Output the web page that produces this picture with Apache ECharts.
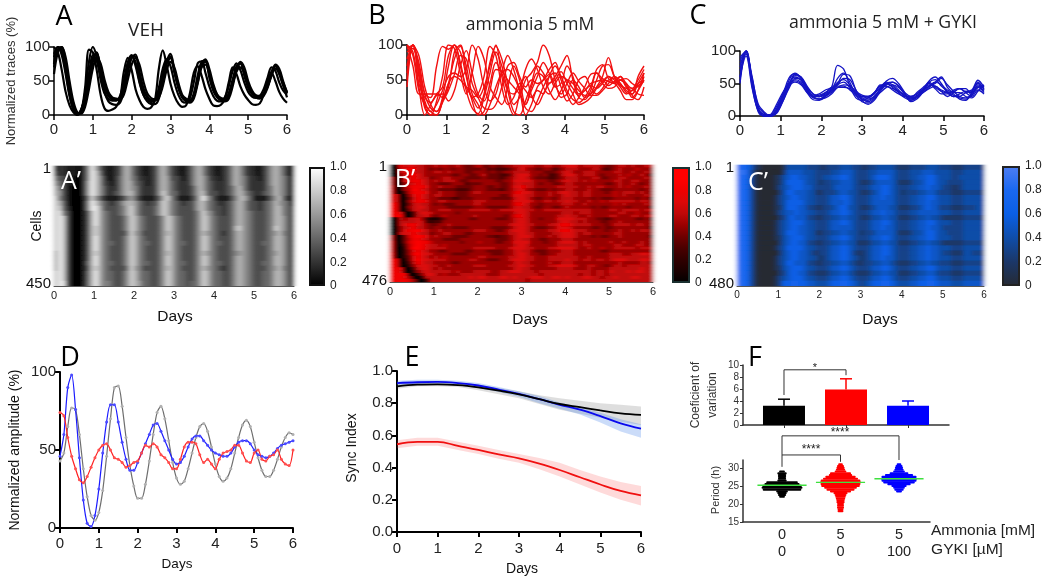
<!DOCTYPE html>
<html><head><meta charset="utf-8">
<style>html,body{margin:0;padding:0;background:#fff}
#h,#c{position:absolute;left:0;top:0;width:1050px;height:580px}
#h{z-index:1;filter:url(#soft)}
#c{z-index:2;filter:blur(0.4px)}</style>
<script src="https://cdn.jsdelivr.net/npm/echarts@6/dist/echarts.min.js"></script>
</head><body>
<svg width="0" height="0" style="position:absolute"><filter id="soft" x="0" y="0" width="100%" height="100%"><feGaussianBlur stdDeviation="1.9 0.7"/></filter></svg>
<div id="h"></div><div id="c"></div>
<script>
// ---------- panel A traces, one value every 0.1 day ----------
const vehA1=[85,100,93,65,30,8,1,8,28,60,88,80,52,32,24,21,21,28,50,78,88,72,48,30,22,19,22,40,68,82,72,48,30,20,18,25,48,76,79,62,42,28,21,20,26,42,65,76,66,48,34,27,25,28,38,55,70,65,48,36,30];
const vehA2=[70,96,100,78,42,14,2,4,18,46,78,91,70,44,30,24,22,24,36,62,84,89,64,40,27,22,21,28,50,75,84,62,40,26,22,21,32,58,78,80,55,36,26,22,22,32,52,72,76,58,40,31,27,27,32,46,64,72,60,44,33];
const vehA3=[60,92,100,85,50,20,4,2,12,38,68,84,76,52,34,26,24,23,30,52,74,84,74,50,32,25,23,26,42,66,78,70,48,30,24,22,28,48,70,74,60,42,30,25,24,30,46,64,70,62,44,34,29,28,31,42,58,68,62,48,34];
const vehA4=[90,100,88,60,28,8,1,8,26,56,84,92,64,40,28,23,22,26,44,72,86,86,58,36,26,21,22,32,58,80,86,66,42,27,21,20,27,52,74,82,68,46,30,23,22,28,46,68,78,70,50,36,28,26,30,42,60,74,68,50,32];
const vehA5=[100,92,66,34,14,4,0,6,40,96,92,66,30,10,6,8,12,24,64,84,66,38,22,12,9,11,22,68,95,74,46,28,17,12,14,32,62,72,58,38,24,14,13,15,24,48,70,60,42,30,22,16,15,17,30,52,62,50,34,24,18];
const vehA6=[75,100,96,70,35,10,1,6,32,78,100,86,58,34,20,16,15,18,36,70,86,78,50,30,20,16,16,24,50,78,90,66,42,26,20,18,24,46,72,78,62,42,28,22,20,24,42,66,76,62,44,32,26,24,28,40,58,72,62,44,26];
// ---------- panels B, C traces, one value every 0.15 day ----------
const amm1=[40,100,70,30,25,70,98,94,100,70,40,25,10,30,75,98,80,45,15,25,50,60,75,100,85,50,25,30,50,40,25,30,50,70,72,55,45,35,30,45,60];
const amm2=[100,90,40,0,15,30,40,85,100,75,35,10,2,25,60,90,70,35,5,0,20,45,70,60,45,55,70,85,50,25,22,35,60,52,48,45,50,42,25,35,50];
const amm3=[80,100,55,10,0,20,55,100,95,60,30,60,98,80,40,25,15,40,70,50,15,35,55,75,60,40,45,70,55,30,35,45,48,50,42,48,55,45,38,50,65];
const amm4=[90,95,60,20,5,15,35,55,60,55,65,100,80,40,20,30,60,65,55,35,0,15,40,50,65,75,50,30,15,25,40,58,60,45,38,40,50,52,45,40,55];
const amm5=[60,100,75,30,10,5,25,70,100,90,55,20,0,5,35,65,62,50,40,30,15,40,60,55,35,22,35,50,45,35,28,30,40,55,82,55,42,38,35,45,50];
const amm6=[100,85,35,15,5,0,20,45,80,98,70,30,15,0,15,40,62,85,65,35,10,5,20,40,55,60,40,20,30,50,55,40,30,38,50,52,45,32,30,55,70];
const amm7=[50,100,85,40,15,5,20,45,55,50,40,35,25,40,70,100,55,20,0,30,65,80,65,40,30,45,55,50,38,28,35,42,38,45,55,50,40,30,35,42,48];
const amm8=[100,70,30,30,30,30,25,40,90,100,60,25,30,55,98,85,40,15,25,45,35,25,35,30,55,70,55,35,22,18,25,40,65,72,52,46,35,22,22,35,60];
const amm9=[70,100,65,15,0,0,18,35,58,85,80,45,25,10,8,15,40,70,75,55,40,50,45,50,58,42,30,45,60,48,38,28,28,35,45,55,50,45,28,22,40];
const amm10=[95,100,45,25,18,28,30,20,35,70,92,60,30,20,45,75,60,35,30,40,55,28,15,30,45,50,62,45,30,15,18,25,38,48,55,45,55,40,38,30,28];
const gyk1=[60,100,55,12,2,2,15,32,58,65,58,42,32,34,40,44,78,72,46,28,24,28,36,46,50,46,38,32,26,30,40,52,44,38,36,38,42,38,40,55,44];
const gyk2=[80,98,50,10,0,0,12,34,50,60,55,40,30,30,34,40,50,64,62,40,24,18,24,38,48,52,46,34,24,28,38,46,50,58,48,38,30,28,34,46,38];
const gyk3=[55,100,60,15,4,0,8,28,48,62,60,46,34,30,32,38,48,58,56,40,28,26,30,42,54,58,50,36,22,26,36,44,52,60,44,34,26,24,36,50,42];
const gyk4=[70,95,45,6,0,0,5,22,42,56,52,36,25,24,30,40,48,52,44,34,30,30,36,46,46,40,34,30,30,34,42,48,46,40,36,30,34,38,36,44,36];
const gyk5=[90,100,50,10,2,0,10,30,46,52,48,36,28,26,30,36,44,44,42,36,30,28,34,44,52,48,40,30,28,36,44,50,42,34,34,40,42,36,30,40,34];
const gyk6=[50,98,58,18,6,0,4,22,44,58,56,42,30,26,28,34,44,48,46,38,32,30,34,48,46,42,38,32,26,32,38,52,56,46,38,32,28,26,32,44,46];
const gyk7=[75,100,52,12,0,0,8,26,46,64,60,44,34,30,36,42,52,56,48,36,26,22,28,36,44,48,44,34,28,30,36,42,46,38,30,36,42,42,32,48,42];
const gyk8=[60,92,42,8,0,2,18,36,50,54,50,38,30,32,36,44,46,46,40,32,26,24,30,40,50,52,46,36,30,34,40,46,52,48,40,36,36,30,28,38,48];
const gyk9=[85,100,48,8,0,0,6,26,54,66,58,40,28,26,32,40,58,66,52,32,22,20,26,42,50,44,36,28,24,30,40,54,60,50,36,30,30,36,38,52,40];
// ---------- heatmaps: each row is 60 columns (0.1 day), digit = tenths of normalized signal ----------
const heatA=[
"2221110259 7421123675 3211236753 2112467532 1123576422 1124676421",
"3221110259 8521123675 3211236753 2112467532 1123576422 1124676421",
"5331100259 8631124675 4221236763 3212467642 2123576532 2124676532",
"6431100269 8632124676 4321236764 3222467643 2223576532 2224676532",
"7531000269 8642224676 5322236764 3222357643 2223467532 2224576532",
"7631000269 8642234677 5322236864 4222357743 3223467643 2234576532",
"8531000148 6421112356 4211124785 3111247964 2111357753 1112467421",
"8741000159 8643234677 6432336875 4323357754 3223467643 3234576542",
"8842000159 9743334578 6433346875 4333357754 3323467643 3234577543",
"8953000137 9754334578 6433346875 4333346865 3323467654 3334577543",
"8983000137 9754333468 7543334687 5433346875 4333467654 3334577643",
"8983000137 9754333468 7543334687 5433346875 4333467654 3334577643",
"8983000137 8754333468 7543334687 5433346875 4333478654 3334587643",
"8983000137 8754333358 6533334677 5433346765 4323467654 3334567543",
"8983000137 9754333468 7543334687 5433346875 4333467654 3334577643",
"8983000137 9754433468 7544334687 5443346875 4433467654 3344577643",
"8983000137 9754333468 7543334687 5433346875 4333467654 3334577643",
"7983000137 8754333468 7543334677 5433346765 4333456654 3334567643",
"7983000137 9754333468 7543334687 5433346875 4333467654 3334577643",
"7983000147 9754433468 7544334687 5443346875 4433467654 3344577643",
"7983000137 8754333358 6533334677 5433346765 4323467654 3334567543",
"8983000147 9754433468 7544334687 5443346875 4433467654 3344577643",
"8983000147 9754433468 7544334687 5443346875 4433467654 3344577643",
"8993000147 9755433468 7644334687 5443446875 4433467654 3344577643"];
const heatB=[
"0086776655 6565565445 6445445566 7665566556 7775666654 4566565566",
"0067886654 5455455444 4534333456 7554455345 6665556643 4565556555",
"0067776655 6656555445 5545445566 6655544456 7655666555 5665565565",
"0056887655 5555445544 5644433467 7755453346 7765666545 5565655654",
"6007787664 5566555444 4544434567 7654443345 6665556644 5566555565",
"6007788765 6566654455 5555445577 7765554456 7665656555 5665566555",
"6005678765 5444555344 4555544567 6665455445 6655555554 4565565455",
"7005788875 5655544445 5544544577 8665555566 6665565665 5565655565",
"7005698765 5444433345 5544434567 7554445455 6655565544 4555555455",
"7003688875 5655544456 6555555578 7765556567 7665665554 5656665655",
"7700578765 6655544455 5555544577 7665556556 7665665555 5656555565",
"7700468765 5444334445 5554444467 7654455456 6655554544 4555554554",
"7700578875 5665555556 6655555577 7765566566 7665565565 6666665665",
"8800467665 4544455556 6555555578 7655455556 6655655555 5656555565",
"8800567765 5554444445 5544444567 6654455445 6555554544 5555455554",
"8800467665 5666555566 6665566677 7665566666 6666665555 6656666566",
"8870036776 5555545555 5555555567 7655555556 6656665555 5566556555",
"8890036675 4565555556 5555554578 7655555566 7665565555 6655566566",
"0065667521 1245555544 5555444567 7655455577 7766655443 4555554454",
"0066667632 3355555555 5555555567 7655555567 7665655544 5565555555",
"0067887654 4556555555 5555555677 7665556678 8766665554 5666656655",
"0056786654 5545444455 5554444567 7654445577 7655554454 4555555554",
"0057889765 5655555556 6655445677 7655556678 8766655554 5565565665",
"0067787664 5566555445 5555555667 7665555667 7765665555 5665555555",
"6004789875 6555444455 5544344567 7765556567 7765554544 5565555554",
"6004688765 5544445555 5555444567 6655445556 6655555555 5555555555",
"7004789886 5555554555 6555445577 7755545567 7765655555 6556555655",
"7003689876 6565555555 5555555567 7655555566 6665665555 5665556655",
"7002699876 6665555556 6666555677 7665556677 7765565565 5666665666",
"7002578765 5445555445 5544445567 6654445556 6655555544 5555555555",
"8002589776 5555444455 5554445567 7655445566 6655555555 6665566776",
"8002478765 6565555555 6655555667 7665556666 6665565555 6666666666",
"8800479776 6665555566 5544455677 7665556666 7665665665 6777666776",
"8800368766 5555445555 5555555567 6655556556 6655555555 5565555665",
"8800257776 6556555556 6655555667 7665556677 7765566554 5665666666",
"8870036776 5655555555 5555555567 6655555566 6655565555 6666666766",
"8870025676 6666565556 6665566777 6665666666 6666665665 7666767766",
"8888002577 6565556666 6655566666 6666566666 6665665665 6666666666",
"8887500266 6666666676 7766677676 6677766776 7666776656 6766677666",
"8888750026 6666666666 6666666666 6566666666 6666666666 6666666666"];
const heatC=[
"8865210000 0144444333 2233344433 2233444432 2233334443 3322233333",
"9974100000 0255554443 3334455543 3344555543 3344455544 4433344444",
"9874100001 2456655443 3445566543 3345666543 3344556654 4433444444",
"9874100001 2466665443 2334455543 2234555542 2234456654 4333344444",
"9874100001 3456665543 3334555543 3345566543 3344556554 3322344444",
"9874100000 2466555442 2333455443 2234566543 2333445543 3322233333",
"9874100001 3456655443 3345566543 3345565543 3344556654 4433344444",
"9874100001 3466665443 3345556543 3345555543 3344556554 4433344444",
"9874100001 2466655332 2334566443 2234555442 2233456553 3322233344",
"9874100001 3455655443 3345566543 3345565543 3344555554 4433344444",
"9874100000 2356555332 2334455443 2234455442 2233445443 2222233333",
"9874100001 3456665443 3345566543 3345566543 3344556654 4433344444",
"9874100001 3456655443 3345555543 3345565543 3344556554 3333344444",
"9874100001 3466655442 2334455443 2334555542 2234456654 4333344444",
"9874100001 2456665443 3345566543 3345566543 3344556654 4433344444",
"9874100000 2456655332 2334455442 2234455442 2233445443 2222233333",
"9874100001 3466665443 3345566543 3345566543 3344556554 4433344444",
"9874100000 2456655432 3345566532 2345566543 3344556554 3322244333",
"9874100001 3456655443 2345566543 2345565543 3344556554 4433344444",
"9874100001 3466555332 2334455432 2334455432 2233445443 3322233333",
"9874100001 2456665443 3345566543 3345566543 3344556654 4433344444",
"9874100000 2356655332 2234455432 2234455442 2233445543 3322233333",
"9874100001 3456665443 3345566543 3345566543 3344556654 4433344444",
"9874100001 3667766554 4456677654 3456677654 4455667765 5544455555"];
const rampA=['#000000','#ffffff'];
const rampB=['#000000','#1a0000','#300000','#4a0000','#6e0000','#9a0000','#c00808','#dc0808','#f00000','#ff0000','#ff0000'];
const rampC=['#262a33','#1b3768','#0f4da8','#0a5fe6','#1a68f0','#4f7ef2'];
// ---------- panel D, one value every 0.1 day ----------
const ampVeh=[43,48,65,77,76,60,38,20,8,5,10,24,46,70,90,91,78,58,40,27,19,19,28,43,60,74,78,70,56,42,32,28,30,38,48,58,65,67,62,52,41,33,30,32,38,48,58,66,69,65,55,45,37,33,33,37,44,52,58,61,60];
const ampGyki=[46,60,90,98,76,45,18,3,1,8,25,48,68,79,79,68,55,44,37,37,42,48,54,60,66,67,62,56,50,44,41,42,46,52,57,59,59,56,53,50,48,47,46,46,48,52,55,56,56,54,50,47,46,45,46,48,51,53,54,55,56];
const ampAmm=[74,72,58,46,38,31,29,33,39,45,50,53,54,50,45,44,42,39,40,42,43,48,53,52,54,52,47,45,42,38,38,44,52,55,55,54,47,42,44,41,38,44,48,49,50,53,53,48,43,42,48,50,44,43,46,47,50,44,41,40,50];
// ---------- panel E, one value every 0.5 day ----------
const syncVeh=[.905,.915,.917,.912,.898,.878,.855,.825,.795,.775,.755,.737,.727];
const syncVehHi=[.92,.925,.928,.925,.915,.895,.875,.85,.83,.815,.80,.79,.78];
const syncVehLo=[.89,.905,.905,.9,.88,.855,.83,.795,.76,.735,.71,.685,.665];
const syncGyki=[.925,.93,.932,.925,.91,.885,.858,.825,.79,.76,.72,.675,.642];
const syncGykiHi=[.94,.945,.945,.94,.925,.90,.875,.845,.805,.775,.74,.70,.67];
const syncGykiLo=[.91,.915,.92,.91,.895,.87,.84,.80,.765,.73,.68,.625,.585];
const syncAmm=[.545,.56,.56,.535,.51,.482,.458,.425,.385,.34,.295,.255,.228];
const syncAmmHi=[.57,.585,.585,.56,.535,.51,.485,.46,.43,.385,.345,.31,.285];
const syncAmmLo=[.52,.535,.535,.51,.485,.455,.43,.39,.345,.295,.245,.2,.165];
// ---------- panel F ----------
const cvMean=[3.2,5.9,3.2];
const cvTop=[4.3,7.7,4.0];
const groupColors=['#000000','#ff0000','#0000ff'];
const ammoniaLabels=['0','5','5'];
const gykiLabels=['0','0','100'];
const periodBins=[
 [[22,.05],[22.5,.07],[23,.08],[23.5,.10],[24,.33],[24.5,.35],[25,.34],[25.5,.30],[26,.27],[26.5,.08],[27,.07],[27.5,.07],[28,.07],[28.5,.08],[29,.05]],
 [[18,.05],[18.5,.05],[19,.06],[19.5,.06],[20,.06],[20.5,.07],[21,.07],[21.5,.08],[22,.09],[22.5,.1],[23,.12],[23.5,.18],[24,.24],[24.5,.28],[25,.33],[25.5,.34],[26,.35],[26.5,.34],[27,.3],[27.5,.26],[28,.2],[28.5,.18],[29,.1],[29.5,.08],[30,.07],[30.5,.06],[31,.04]],
 [[23.5,.05],[24,.08],[24.5,.1],[25,.13],[25.5,.2],[26,.27],[26.5,.3],[27,.31],[27.5,.3],[28,.24],[28.5,.16],[29,.1],[29.5,.08],[30,.07],[30.5,.06],[31,.04]]];
const periodMean=[25.2,26,27];
const bracketCv=[[0,5],[0,9.2],[1,9.2],[1,8.3]];
const bracketP1=[[0,30.3],[0,33.6],[1,33.6],[1,31.7]];
const bracketP2=[[0,33.6],[0,38.9],[2,38.9],[2,32.2]];

const SANS='"Liberation Sans",Arial,sans-serif', CAL='"Open Sans",sans-serif';
const grids=[],xAxes=[],yAxes=[],series=[];
// heatmap layer: drawn by its own instance so it can be softened like the source raster
const hGrids=[],hX=[],hY=[],hSeries=[],hMaps=[];
function addGrid(l,t,w,h){grids.push({left:l,top:t,width:w,height:h,containLabel:false});return grids.length-1;}
function ax(list,o){list.push(o);return list.length-1;}
function numAxis(g,min,max,interval,fs,extra){
  return Object.assign({type:'value',gridIndex:g,min,max,interval,splitLine:{show:false},
    axisLine:{show:true,onZero:false,lineStyle:{color:'#000',width:1.5}},
    axisTick:{show:true,length:5,lineStyle:{color:'#000',width:1.5}},
    axisLabel:{fontSize:fs,color:'#222',fontFamily:SANS,margin:4}},extra||{});
}
function lineTraces(l,t,w,h,ymax,step,traces,color,lw,fs){
  const g=addGrid(l,t,w,h);
  const xi=ax(xAxes,numAxis(g,0,6,1,fs,{axisLabel:{fontSize:fs,color:'#222',fontFamily:SANS,margin:7}}));
  const yi=ax(yAxes,numAxis(g,0,ymax,50,fs));
  traces.forEach(tr=>series.push({type:'line',xAxisIndex:xi,yAxisIndex:yi,showSymbol:false,smooth:.35,
    lineStyle:{color,width:lw},silent:true,data:tr.map((v,i)=>[i*step,v])}));
}
lineTraces(54,47,233,68,100,.1,[vehA1,vehA2,vehA3,vehA4,vehA5,vehA6],'#000',2.2,15);
lineTraces(407,45,237,70,100,.15,[amm1,amm2,amm3,amm4,amm5,amm6,amm7,amm8,amm9,amm10],'#f21010',1.4,15);
lineTraces(740,51,244,65,100,.15,[gyk1,gyk2,gyk3,gyk4,gyk5,gyk6,gyk7,gyk8,gyk9],'#1414c4',1.3,15);

function heat(l,t,w,h,rows,ramp,last,fs,bg){
  const clean=rows.map(r=>r.replace(/ /g,''));
  const cats=Array.from(clean[0],(c,i)=>String(i));
  const rowNames=clean.map((r,i)=>i===0?'1':(i===clean.length-1?last:''));
  // axes with tick labels live on the sharp layer
  const g=addGrid(l,t,w,h);
  ax(xAxes,numAxis(g,0,6,1,fs,{position:'bottom',axisLine:{show:true,onZero:false,lineStyle:{color:'#555',width:1}},axisTick:{length:3,lineStyle:{color:'#333'}},axisLabel:{fontSize:fs,color:'#222',fontFamily:SANS,margin:4}}));
  ax(yAxes,{type:'category',gridIndex:g,inverse:true,data:rowNames,axisLine:{show:false},axisTick:{show:false},
    axisLabel:{interval:0,fontSize:15,color:'#111',fontFamily:SANS,margin:3}});
  // cells live on the heat layer
  const hg=hGrids.length;
  hGrids.push({left:l,top:t,width:w,height:h,show:true,backgroundColor:bg,borderWidth:0});
  hX.push({type:'category',gridIndex:hg,data:cats,show:false});
  hY.push({type:'category',gridIndex:hg,inverse:true,data:rowNames,show:false});
  const data=[];clean.forEach((r,y)=>Array.from(r).forEach((c,x)=>data.push([x,y,+c/10])));
  hMaps.push({show:false,seriesIndex:hg,min:0,max:1,inRange:{color:ramp}});
  hSeries.push({type:'heatmap',xAxisIndex:hg,yAxisIndex:hg,data,silent:true,itemStyle:{borderWidth:0}});
}
heat(54,166,240,120,heatA,rampA,'450',11,'#666666');
heat(390,165,263,117,heatB,rampB,'476',11,'#a01010');
heat(737,165,247,121,heatC,rampC,'480',10,'#0e52c0');

function cbar(l,t,w,h,ramp,border){
  const g=addGrid(l,t,w,h);
  const xi=ax(xAxes,{type:'category',gridIndex:g,data:[''],show:false});
  const yi=ax(yAxes,numAxis(g,0,1,.2,12,{position:'right',axisLine:{show:false},axisTick:{length:4,inside:false,lineStyle:{color:'#000',width:1}},
    axisLabel:{fontSize:12,color:'#222',fontFamily:SANS,margin:5,formatter:v=>v===0?'0':v.toFixed(1)}}));
  const stops=ramp.map((c,i)=>({offset:1-i/(ramp.length-1),color:c}));
  series.push({type:'bar',xAxisIndex:xi,yAxisIndex:yi,barWidth:'100%',silent:true,data:[1],
    itemStyle:{borderColor:border,borderWidth:2,color:{type:'linear',x:0,y:0,x2:0,y2:1,colorStops:stops.reverse()}}});
}
cbar(309,167,16,119,rampA,'#111');
cbar(672,167,18,116,rampB,'#1a3030');
cbar(1002,166,18,120,rampC,'#222');

const heavy={axisLine:{show:true,onZero:false,lineStyle:{color:'#000',width:2}},axisTick:{length:5,lineStyle:{color:'#000',width:2}}};
// panel D
(function(){
  const g=addGrid(60,372,233,156);
  const xi=ax(xAxes,numAxis(g,0,6,1,15,Object.assign({},heavy,{axisLabel:{fontSize:15,color:'#222',fontFamily:SANS,margin:8}})));
  const yi=ax(yAxes,numAxis(g,0,100,50,15,heavy));
  [[ampVeh,'#6e6e6e','#b0b0b0'],[ampGyki,'#1a1aff','#4a4aff'],[ampAmm,'#ff2020','#ff5050']].forEach(d=>series.push({
    type:'line',xAxisIndex:xi,yAxisIndex:yi,symbol:'circle',symbolSize:3,smooth:.3,silent:true,
    lineStyle:{color:d[1],width:1.2},itemStyle:{color:d[2]},data:d[0].map((v,i)=>[i*.1,v])}));
})();
// panel E
(function(){
  const g=addGrid(397,371,244,161);
  const xi=ax(xAxes,numAxis(g,0,6,1,15,Object.assign({},heavy,{axisLabel:{fontSize:15,color:'#222',fontFamily:SANS,margin:9}})));
  const yi=ax(yAxes,numAxis(g,0,1,.2,15,Object.assign({},heavy,{axisLabel:{fontSize:15,color:'#222',fontFamily:SANS,margin:4,formatter:v=>v.toFixed(1)}})));
  const xy=a=>a.map((v,i)=>[i*.5,v]);
  const bands=[[syncVehHi,syncVehLo,'rgba(60,60,60,.17)'],[syncGykiHi,syncGykiLo,'rgba(70,130,235,.28)'],[syncAmmHi,syncAmmLo,'rgba(250,70,70,.2)']];
  series.push({type:'custom',xAxisIndex:xi,yAxisIndex:yi,silent:true,data:[[0,0],[1,0],[2,0]],
    renderItem(p,api){const b=bands[api.value(0)];
      const pts=b[0].map((v,i)=>api.coord([i*.5,v])).concat(b[1].map((v,i)=>api.coord([i*.5,v])).reverse());
      return {type:'polygon',shape:{points:pts},style:{fill:b[2]}};}});
  [[syncGyki,'#0a0aee'],[syncVeh,'#000000'],[syncAmm,'#f01010']].forEach(d=>series.push({type:'line',xAxisIndex:xi,yAxisIndex:yi,showSymbol:false,smooth:.4,silent:true,lineStyle:{color:d[1],width:1.8},data:xy(d[0])}));
})();
const thin={axisLine:{show:true,onZero:false,lineStyle:{color:'#333',width:1.5}},axisTick:{length:3,lineStyle:{color:'#333',width:1}}};
// panel F top
(function(){
  const g=addGrid(743,365,206,60);
  const xi=ax(xAxes,numAxis(g,-.661,2.661,1,10,Object.assign({},thin,{axisTick:{show:true,length:3,customValues:[0,1,2],lineStyle:{color:'#333'}},axisLabel:{show:false}})));
  const yi=ax(yAxes,numAxis(g,0,10,2,10,Object.assign({},thin,{axisLabel:{fontSize:10,color:'#333',fontFamily:SANS,margin:4}})));
  series.push({type:'bar',xAxisIndex:xi,yAxisIndex:yi,barWidth:42,silent:true,data:cvMean.map((v,i)=>({value:[i,v],itemStyle:{color:groupColors[i]}}))});
  series.push({type:'custom',xAxisIndex:xi,yAxisIndex:yi,silent:true,data:cvMean.map((v,i)=>[i,v,cvTop[i]]),
    renderItem(p,api){const a=api.coord([api.value(0),api.value(1)]),b=api.coord([api.value(0),api.value(2)]);
      const st={stroke:groupColors[api.value(0)],lineWidth:1.5};
      return {type:'group',children:[{type:'line',shape:{x1:a[0],y1:a[1],x2:b[0],y2:b[1]},style:st},{type:'line',shape:{x1:b[0]-6,y1:b[1],x2:b[0]+6,y2:b[1]},style:st}]};}});
  series.push({type:'line',xAxisIndex:xi,yAxisIndex:yi,clip:false,showSymbol:false,silent:true,lineStyle:{color:'#333',width:1},data:bracketCv});
})();
// panel F bottom
(function(){
  const g=addGrid(743,460,187,62);
  const xi=ax(xAxes,numAxis(g,-.667,2.53,1,14,Object.assign({},thin,{axisTick:{show:false},
    axisLabel:{customValues:[0,1,2],fontSize:14.5,lineHeight:17,color:'#222',fontFamily:SANS,margin:4,formatter:v=>{const i=Math.round(v);return ammoniaLabels[i]+'\n'+gykiLabels[i];}}})));
  const yi=ax(yAxes,numAxis(g,15,32.2,5,10,Object.assign({},thin,{axisLabel:{fontSize:10,color:'#333',fontFamily:SANS,margin:4,customValues:[15,20,25,30]},axisTick:{length:3,customValues:[15,20,25,30],lineStyle:{color:'#333'}}})));
  const swarm=[];periodBins.forEach((bins,gi)=>bins.forEach(b=>swarm.push([gi,b[0],b[1]])));
  series.push({type:'custom',xAxisIndex:xi,yAxisIndex:yi,silent:true,data:swarm,clip:false,
    renderItem(p,api){const gi=api.value(0),y=api.value(1),hw=api.value(2);
      const a=api.coord([gi-hw,y+.3]),b=api.coord([gi+hw,y-.3]);
      return {type:'rect',shape:{x:a[0],y:a[1],width:b[0]-a[0],height:b[1]-a[1],r:1},style:{fill:groupColors[gi]}};}});
  periodMean.forEach((m,i)=>series.push({type:'line',xAxisIndex:xi,yAxisIndex:yi,showSymbol:false,silent:true,lineStyle:{color:'#3fe03f',width:1.4},data:[[i-.42,m],[i+.42,m]]}));
  [bracketP1,bracketP2].forEach(b=>series.push({type:'line',xAxisIndex:xi,yAxisIndex:yi,clip:false,showSymbol:false,silent:true,lineStyle:{color:'#333',width:1},data:b}));
})();

function t(text,x,y,size,o){o=o||{};
  return {type:'text',x,y,z:100,rotation:o.rot?Math.PI/2:0,style:{text,fontSize:size,fontFamily:o.font||SANS,fill:o.fill||'#222',align:'center',verticalAlign:'middle'}};}
const texts=[
 t('A',64,17,27,{font:CAL,fill:'#000'}),t('B',377,16,27,{font:CAL,fill:'#000'}),t('C',698,16,27,{font:CAL,fill:'#000'}),
 t('VEH',146,31,19,{font:CAL,fill:'#222'}),t('ammonia 5 mM',530,25,17.5,{font:CAL,fill:'#222'}),t('ammonia 5 mM + GYKI',883,23,17.7,{font:CAL,fill:'#222'}),
 t('Normalized traces (%)',11,81,13,{rot:1,fill:'#333'}),
 t('A’',71,182,25,{font:CAL,fill:'#fff'}),t('B’',405,180,25,{font:CAL,fill:'#fff'}),t('C’',758,183,25,{font:CAL,fill:'#fff'}),
 t('Cells',37,226,14,{rot:1,fill:'#111'}),
 t('Days',175,317,15.5,{fill:'#111'}),t('Days',530,320,15.5,{fill:'#111'}),t('Days',880,320,15.5,{fill:'#111'}),
 t('D',70,358,27,{font:CAL,fill:'#000'}),t('E',412,358,27,{font:CAL,fill:'#000'}),t('F',755,358,27,{font:CAL,fill:'#000'}),
 t('Normalized amplitude (%)',15,450,14,{rot:1,fill:'#111'}),t('Days',177,564,13.5,{fill:'#111'}),
 t('Sync Index',352,448,14,{rot:1,fill:'#111'}),t('Days',522,569,14,{fill:'#111'}),
 t('Coeficient of',696,395,12,{rot:1,fill:'#333'}),t('variation',713,395,12,{rot:1,fill:'#333'}),
 t('Period (h)',716,490,11,{rot:1,fill:'#333'}),
 t('*',815,368,11,{fill:'#222'}),t('****',840,433,12,{fill:'#222'}),t('****',811,450,12,{fill:'#222'}),
 t('Ammonia [mM]',983,531,15.5,{fill:'#222'}),t('GYKI [µM]',967,550,15.5,{fill:'#222'})
];
const heatChart=echarts.init(document.getElementById('h'),null,{renderer:'canvas'});
heatChart.setOption({animation:false,backgroundColor:'#fff',grid:hGrids,xAxis:hX,yAxis:hY,visualMap:hMaps,series:hSeries});
const chart=echarts.init(document.getElementById('c'),null,{renderer:'canvas'});
chart.setOption({animation:false,backgroundColor:'transparent',grid:grids,xAxis:xAxes,yAxis:yAxes,series,graphic:{elements:texts}});
</script></body></html>
